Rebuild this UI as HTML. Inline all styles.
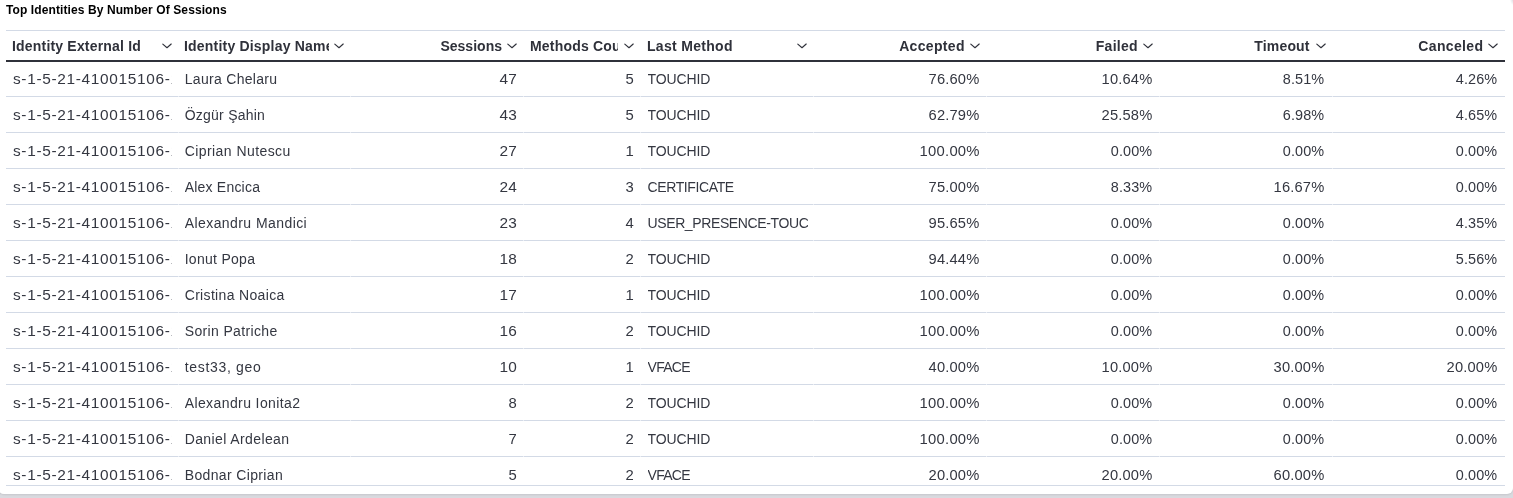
<!DOCTYPE html>
<html><head><meta charset="utf-8"><style>
html,body{margin:0;padding:0;}
body{width:1513px;height:498px;overflow:hidden;background:#d9dadf;position:relative;font-family:"Liberation Sans",sans-serif;}
#panel{position:absolute;left:-2px;top:-8px;width:1515px;height:502px;background:#fff;border-radius:6px;box-shadow:0 1px 2px rgba(0,0,0,0.09);}
#wrap{position:absolute;left:0;top:0;width:1513px;height:498px;will-change:transform;}
.t{position:absolute;white-space:nowrap;overflow:hidden;line-height:20px;height:20px;}
.h{font-weight:700;font-size:14px;color:#2f313a;}
.c{font-weight:400;font-size:14px;color:#343741;}
.r{text-align:right;}
.hl{position:absolute;height:1px;background:#d3dae6;}
.gap{position:absolute;width:1px;height:1px;background:#eaeef4;}
.chev{position:absolute;width:18px;height:18px;}
#title{position:absolute;font-size:12px;font-weight:700;color:#000;line-height:12px;white-space:nowrap;}
</style></head><body>
<div id="panel"></div>
<div style="position:absolute;left:1510px;top:0;width:3px;height:5px;background:radial-gradient(ellipse 3px 5px at 100% 0,rgba(190,194,204,0.5),rgba(255,255,255,0))"></div>
<div id="wrap">

<div id="title" style="left:6px;top:4px;letter-spacing:0.1px">Top Identities By Number Of Sessions</div>
<div class="hl" style="left:6px;top:30px;width:1499px"></div>
<div style="position:absolute;left:6px;top:60px;width:1499px;height:2px;background:#2f313a"></div>
<div class="chev" style="left:158px;top:38px"><svg viewBox="0 0 18 18" width="18" height="18"><path d="M4.8 6.1 L9.0 9.7 L13.2 6.0" fill="none" stroke="#2f313a" stroke-width="1.15" stroke-linecap="round" stroke-linejoin="round"/></svg></div>
<div class="t h" style="left:12px;top:36.15px;width:146px;letter-spacing:0.189px">Identity External Id</div>
<div class="chev" style="left:330px;top:38px"><svg viewBox="0 0 18 18" width="18" height="18"><path d="M4.8 6.1 L9.0 9.7 L13.2 6.0" fill="none" stroke="#2f313a" stroke-width="1.15" stroke-linecap="round" stroke-linejoin="round"/></svg></div>
<div class="t h" style="left:184px;top:36.15px;width:145px;letter-spacing:0.2px">Identity Display Name</div>
<div class="chev" style="left:503px;top:38px"><svg viewBox="0 0 18 18" width="18" height="18"><path d="M4.8 6.1 L9.0 9.7 L13.2 6.0" fill="none" stroke="#2f313a" stroke-width="1.15" stroke-linecap="round" stroke-linejoin="round"/></svg></div>
<div class="t h r" style="left:352px;top:36.15px;width:150.014px;letter-spacing:0.014px">Sessions</div>
<div class="chev" style="left:620px;top:38px"><svg viewBox="0 0 18 18" width="18" height="18"><path d="M4.8 6.1 L9.0 9.7 L13.2 6.0" fill="none" stroke="#2f313a" stroke-width="1.15" stroke-linecap="round" stroke-linejoin="round"/></svg></div>
<div class="t h" style="left:530px;top:36.15px;width:88px;letter-spacing:0.2px">Methods Count</div>
<div class="chev" style="left:793px;top:38px"><svg viewBox="0 0 18 18" width="18" height="18"><path d="M4.8 6.1 L9.0 9.7 L13.2 6.0" fill="none" stroke="#2f313a" stroke-width="1.15" stroke-linecap="round" stroke-linejoin="round"/></svg></div>
<div class="t h" style="left:647px;top:36.15px;width:143px;letter-spacing:0.3px">Last Method</div>
<div class="chev" style="left:966px;top:38px"><svg viewBox="0 0 18 18" width="18" height="18"><path d="M4.8 6.1 L9.0 9.7 L13.2 6.0" fill="none" stroke="#2f313a" stroke-width="1.15" stroke-linecap="round" stroke-linejoin="round"/></svg></div>
<div class="t h r" style="left:815px;top:36.15px;width:149.83000000000004px;letter-spacing:0.33px">Accepted</div>
<div class="chev" style="left:1139px;top:38px"><svg viewBox="0 0 18 18" width="18" height="18"><path d="M4.8 6.1 L9.0 9.7 L13.2 6.0" fill="none" stroke="#2f313a" stroke-width="1.15" stroke-linecap="round" stroke-linejoin="round"/></svg></div>
<div class="t h r" style="left:988px;top:36.15px;width:149.74px;letter-spacing:0.24px">Failed</div>
<div class="chev" style="left:1312px;top:38px"><svg viewBox="0 0 18 18" width="18" height="18"><path d="M4.8 6.1 L9.0 9.7 L13.2 6.0" fill="none" stroke="#2f313a" stroke-width="1.15" stroke-linecap="round" stroke-linejoin="round"/></svg></div>
<div class="t h r" style="left:1161px;top:36.15px;width:148.66699999999992px;letter-spacing:0.167px">Timeout</div>
<div class="chev" style="left:1484px;top:38px"><svg viewBox="0 0 18 18" width="18" height="18"><path d="M4.8 6.1 L9.0 9.7 L13.2 6.0" fill="none" stroke="#2f313a" stroke-width="1.15" stroke-linecap="round" stroke-linejoin="round"/></svg></div>
<div class="t h r" style="left:1334px;top:36.15px;width:149.3499999999999px;letter-spacing:0.35px">Canceled</div>
<div class="t c" style="left:13px;top:69.15px;width:159px"><span style="display:inline-block;transform:scaleX(1.1);transform-origin:0 0;letter-spacing:0.611px">s-1-5-21-410015106-1234567890</span></div>
<div class="t c" style="left:184.7px;top:69.15px;width:159.3px;letter-spacing:0.308px">Laura Chelaru</div>
<div class="t c r" style="left:352px;top:69.15px;width:165.3003px"><span style="display:inline-block;transform:scaleX(1.1);transform-origin:100% 0;letter-spacing:0.273px">47</span></div>
<div class="t c r" style="left:525px;top:69.15px;width:109.0px"><span style="display:inline-block;transform:scaleX(1.06);transform-origin:100% 0;letter-spacing:0px">5</span></div>
<div class="t c" style="left:647.5px;top:69.15px;width:160.0px;letter-spacing:-0.117px">TOUCHID</div>
<div class="t c r" style="left:815px;top:69.15px;width:164.67010000000005px"><span style="display:inline-block;transform:scaleX(1.05);transform-origin:100% 0;letter-spacing:0.162px">76.60%</span></div>
<div class="t c r" style="left:988px;top:69.15px;width:164.17010000000005px"><span style="display:inline-block;transform:scaleX(1.05);transform-origin:100% 0;letter-spacing:0.162px">10.64%</span></div>
<div class="t c r" style="left:1161px;top:69.15px;width:163.5999099999999px"><span style="display:inline-block;transform:scaleX(1.03);transform-origin:100% 0;letter-spacing:0.097px">8.51%</span></div>
<div class="t c r" style="left:1334px;top:69.15px;width:163.5999099999999px"><span style="display:inline-block;transform:scaleX(1.03);transform-origin:100% 0;letter-spacing:0.097px">4.26%</span></div>
<div class="t c" style="left:13px;top:105.15px;width:159px"><span style="display:inline-block;transform:scaleX(1.1);transform-origin:0 0;letter-spacing:0.611px">s-1-5-21-410015106-1234567890</span></div>
<div class="t c" style="left:184.7px;top:105.15px;width:159.3px;letter-spacing:0.24px">Özgür Şahin</div>
<div class="t c r" style="left:352px;top:105.15px;width:165.3003px"><span style="display:inline-block;transform:scaleX(1.1);transform-origin:100% 0;letter-spacing:0.273px">43</span></div>
<div class="t c r" style="left:525px;top:105.15px;width:109.0px"><span style="display:inline-block;transform:scaleX(1.06);transform-origin:100% 0;letter-spacing:0px">5</span></div>
<div class="t c" style="left:647.5px;top:105.15px;width:160.0px;letter-spacing:-0.117px">TOUCHID</div>
<div class="t c r" style="left:815px;top:105.15px;width:164.67010000000005px"><span style="display:inline-block;transform:scaleX(1.05);transform-origin:100% 0;letter-spacing:0.162px">62.79%</span></div>
<div class="t c r" style="left:988px;top:105.15px;width:164.17010000000005px"><span style="display:inline-block;transform:scaleX(1.05);transform-origin:100% 0;letter-spacing:0.162px">25.58%</span></div>
<div class="t c r" style="left:1161px;top:105.15px;width:163.5999099999999px"><span style="display:inline-block;transform:scaleX(1.03);transform-origin:100% 0;letter-spacing:0.097px">6.98%</span></div>
<div class="t c r" style="left:1334px;top:105.15px;width:163.5999099999999px"><span style="display:inline-block;transform:scaleX(1.03);transform-origin:100% 0;letter-spacing:0.097px">4.65%</span></div>
<div class="t c" style="left:13px;top:141.15px;width:159px"><span style="display:inline-block;transform:scaleX(1.1);transform-origin:0 0;letter-spacing:0.611px">s-1-5-21-410015106-1234567890</span></div>
<div class="t c" style="left:184.7px;top:141.15px;width:159.3px;letter-spacing:0.431px">Ciprian Nutescu</div>
<div class="t c r" style="left:352px;top:141.15px;width:165.3003px"><span style="display:inline-block;transform:scaleX(1.1);transform-origin:100% 0;letter-spacing:0.273px">27</span></div>
<div class="t c r" style="left:525px;top:141.15px;width:109.0px"><span style="display:inline-block;transform:scaleX(1.06);transform-origin:100% 0;letter-spacing:0px">1</span></div>
<div class="t c" style="left:647.5px;top:141.15px;width:160.0px;letter-spacing:-0.117px">TOUCHID</div>
<div class="t c r" style="left:815px;top:141.15px;width:164.72684000000004px"><span style="display:inline-block;transform:scaleX(1.06);transform-origin:100% 0;letter-spacing:0.214px">100.00%</span></div>
<div class="t c r" style="left:988px;top:141.15px;width:164.0999099999999px"><span style="display:inline-block;transform:scaleX(1.03);transform-origin:100% 0;letter-spacing:0.097px">0.00%</span></div>
<div class="t c r" style="left:1161px;top:141.15px;width:163.5999099999999px"><span style="display:inline-block;transform:scaleX(1.03);transform-origin:100% 0;letter-spacing:0.097px">0.00%</span></div>
<div class="t c r" style="left:1334px;top:141.15px;width:163.5999099999999px"><span style="display:inline-block;transform:scaleX(1.03);transform-origin:100% 0;letter-spacing:0.097px">0.00%</span></div>
<div class="t c" style="left:13px;top:177.15px;width:159px"><span style="display:inline-block;transform:scaleX(1.1);transform-origin:0 0;letter-spacing:0.611px">s-1-5-21-410015106-1234567890</span></div>
<div class="t c" style="left:184.7px;top:177.15px;width:159.3px;letter-spacing:0.21px">Alex Encica</div>
<div class="t c r" style="left:352px;top:177.15px;width:165.3003px"><span style="display:inline-block;transform:scaleX(1.1);transform-origin:100% 0;letter-spacing:0.273px">24</span></div>
<div class="t c r" style="left:525px;top:177.15px;width:109.0px"><span style="display:inline-block;transform:scaleX(1.06);transform-origin:100% 0;letter-spacing:0px">3</span></div>
<div class="t c" style="left:647.5px;top:177.15px;width:160.0px;letter-spacing:-0.38px">CERTIFICATE</div>
<div class="t c r" style="left:815px;top:177.15px;width:164.67010000000005px"><span style="display:inline-block;transform:scaleX(1.05);transform-origin:100% 0;letter-spacing:0.162px">75.00%</span></div>
<div class="t c r" style="left:988px;top:177.15px;width:164.0999099999999px"><span style="display:inline-block;transform:scaleX(1.03);transform-origin:100% 0;letter-spacing:0.097px">8.33%</span></div>
<div class="t c r" style="left:1161px;top:177.15px;width:163.67010000000005px"><span style="display:inline-block;transform:scaleX(1.05);transform-origin:100% 0;letter-spacing:0.162px">16.67%</span></div>
<div class="t c r" style="left:1334px;top:177.15px;width:163.5999099999999px"><span style="display:inline-block;transform:scaleX(1.03);transform-origin:100% 0;letter-spacing:0.097px">0.00%</span></div>
<div class="t c" style="left:13px;top:213.15px;width:159px"><span style="display:inline-block;transform:scaleX(1.1);transform-origin:0 0;letter-spacing:0.611px">s-1-5-21-410015106-1234567890</span></div>
<div class="t c" style="left:184.7px;top:213.15px;width:159.3px;letter-spacing:0.429px">Alexandru Mandici</div>
<div class="t c r" style="left:352px;top:213.15px;width:165.3003px"><span style="display:inline-block;transform:scaleX(1.1);transform-origin:100% 0;letter-spacing:0.273px">23</span></div>
<div class="t c r" style="left:525px;top:213.15px;width:109.0px"><span style="display:inline-block;transform:scaleX(1.06);transform-origin:100% 0;letter-spacing:0px">4</span></div>
<div class="t c" style="left:647.5px;top:213.15px;width:160.0px;letter-spacing:-0.382px">USER_PRESENCE-TOUCHID</div>
<div class="t c r" style="left:815px;top:213.15px;width:164.67010000000005px"><span style="display:inline-block;transform:scaleX(1.05);transform-origin:100% 0;letter-spacing:0.162px">95.65%</span></div>
<div class="t c r" style="left:988px;top:213.15px;width:164.0999099999999px"><span style="display:inline-block;transform:scaleX(1.03);transform-origin:100% 0;letter-spacing:0.097px">0.00%</span></div>
<div class="t c r" style="left:1161px;top:213.15px;width:163.5999099999999px"><span style="display:inline-block;transform:scaleX(1.03);transform-origin:100% 0;letter-spacing:0.097px">0.00%</span></div>
<div class="t c r" style="left:1334px;top:213.15px;width:163.5999099999999px"><span style="display:inline-block;transform:scaleX(1.03);transform-origin:100% 0;letter-spacing:0.097px">4.35%</span></div>
<div class="t c" style="left:13px;top:249.15px;width:159px"><span style="display:inline-block;transform:scaleX(1.1);transform-origin:0 0;letter-spacing:0.611px">s-1-5-21-410015106-1234567890</span></div>
<div class="t c" style="left:184.7px;top:249.15px;width:159.3px;letter-spacing:0.278px">Ionut Popa</div>
<div class="t c r" style="left:352px;top:249.15px;width:165.3003px"><span style="display:inline-block;transform:scaleX(1.1);transform-origin:100% 0;letter-spacing:0.273px">18</span></div>
<div class="t c r" style="left:525px;top:249.15px;width:109.0px"><span style="display:inline-block;transform:scaleX(1.06);transform-origin:100% 0;letter-spacing:0px">2</span></div>
<div class="t c" style="left:647.5px;top:249.15px;width:160.0px;letter-spacing:-0.117px">TOUCHID</div>
<div class="t c r" style="left:815px;top:249.15px;width:164.67010000000005px"><span style="display:inline-block;transform:scaleX(1.05);transform-origin:100% 0;letter-spacing:0.162px">94.44%</span></div>
<div class="t c r" style="left:988px;top:249.15px;width:164.0999099999999px"><span style="display:inline-block;transform:scaleX(1.03);transform-origin:100% 0;letter-spacing:0.097px">0.00%</span></div>
<div class="t c r" style="left:1161px;top:249.15px;width:163.5999099999999px"><span style="display:inline-block;transform:scaleX(1.03);transform-origin:100% 0;letter-spacing:0.097px">0.00%</span></div>
<div class="t c r" style="left:1334px;top:249.15px;width:163.5999099999999px"><span style="display:inline-block;transform:scaleX(1.03);transform-origin:100% 0;letter-spacing:0.097px">5.56%</span></div>
<div class="t c" style="left:13px;top:285.15px;width:159px"><span style="display:inline-block;transform:scaleX(1.1);transform-origin:0 0;letter-spacing:0.611px">s-1-5-21-410015106-1234567890</span></div>
<div class="t c" style="left:184.7px;top:285.15px;width:159.3px;letter-spacing:0.331px">Cristina Noaica</div>
<div class="t c r" style="left:352px;top:285.15px;width:165.3003px"><span style="display:inline-block;transform:scaleX(1.1);transform-origin:100% 0;letter-spacing:0.273px">17</span></div>
<div class="t c r" style="left:525px;top:285.15px;width:109.0px"><span style="display:inline-block;transform:scaleX(1.06);transform-origin:100% 0;letter-spacing:0px">1</span></div>
<div class="t c" style="left:647.5px;top:285.15px;width:160.0px;letter-spacing:-0.117px">TOUCHID</div>
<div class="t c r" style="left:815px;top:285.15px;width:164.72684000000004px"><span style="display:inline-block;transform:scaleX(1.06);transform-origin:100% 0;letter-spacing:0.214px">100.00%</span></div>
<div class="t c r" style="left:988px;top:285.15px;width:164.0999099999999px"><span style="display:inline-block;transform:scaleX(1.03);transform-origin:100% 0;letter-spacing:0.097px">0.00%</span></div>
<div class="t c r" style="left:1161px;top:285.15px;width:163.5999099999999px"><span style="display:inline-block;transform:scaleX(1.03);transform-origin:100% 0;letter-spacing:0.097px">0.00%</span></div>
<div class="t c r" style="left:1334px;top:285.15px;width:163.5999099999999px"><span style="display:inline-block;transform:scaleX(1.03);transform-origin:100% 0;letter-spacing:0.097px">0.00%</span></div>
<div class="t c" style="left:13px;top:321.15px;width:159px"><span style="display:inline-block;transform:scaleX(1.1);transform-origin:0 0;letter-spacing:0.611px">s-1-5-21-410015106-1234567890</span></div>
<div class="t c" style="left:184.7px;top:321.15px;width:159.3px;letter-spacing:0.354px">Sorin Patriche</div>
<div class="t c r" style="left:352px;top:321.15px;width:165.3003px"><span style="display:inline-block;transform:scaleX(1.1);transform-origin:100% 0;letter-spacing:0.273px">16</span></div>
<div class="t c r" style="left:525px;top:321.15px;width:109.0px"><span style="display:inline-block;transform:scaleX(1.06);transform-origin:100% 0;letter-spacing:0px">2</span></div>
<div class="t c" style="left:647.5px;top:321.15px;width:160.0px;letter-spacing:-0.117px">TOUCHID</div>
<div class="t c r" style="left:815px;top:321.15px;width:164.72684000000004px"><span style="display:inline-block;transform:scaleX(1.06);transform-origin:100% 0;letter-spacing:0.214px">100.00%</span></div>
<div class="t c r" style="left:988px;top:321.15px;width:164.0999099999999px"><span style="display:inline-block;transform:scaleX(1.03);transform-origin:100% 0;letter-spacing:0.097px">0.00%</span></div>
<div class="t c r" style="left:1161px;top:321.15px;width:163.5999099999999px"><span style="display:inline-block;transform:scaleX(1.03);transform-origin:100% 0;letter-spacing:0.097px">0.00%</span></div>
<div class="t c r" style="left:1334px;top:321.15px;width:163.5999099999999px"><span style="display:inline-block;transform:scaleX(1.03);transform-origin:100% 0;letter-spacing:0.097px">0.00%</span></div>
<div class="t c" style="left:13px;top:357.15px;width:159px"><span style="display:inline-block;transform:scaleX(1.1);transform-origin:0 0;letter-spacing:0.611px">s-1-5-21-410015106-1234567890</span></div>
<div class="t c" style="left:184.7px;top:357.15px;width:159.3px;letter-spacing:0.69px">test33, geo</div>
<div class="t c r" style="left:352px;top:357.15px;width:165.3003px"><span style="display:inline-block;transform:scaleX(1.1);transform-origin:100% 0;letter-spacing:0.273px">10</span></div>
<div class="t c r" style="left:525px;top:357.15px;width:109.0px"><span style="display:inline-block;transform:scaleX(1.06);transform-origin:100% 0;letter-spacing:0px">1</span></div>
<div class="t c" style="left:647.5px;top:357.15px;width:160.0px;letter-spacing:-0.7px">VFACE</div>
<div class="t c r" style="left:815px;top:357.15px;width:164.67010000000005px"><span style="display:inline-block;transform:scaleX(1.05);transform-origin:100% 0;letter-spacing:0.162px">40.00%</span></div>
<div class="t c r" style="left:988px;top:357.15px;width:164.17010000000005px"><span style="display:inline-block;transform:scaleX(1.05);transform-origin:100% 0;letter-spacing:0.162px">10.00%</span></div>
<div class="t c r" style="left:1161px;top:357.15px;width:163.67010000000005px"><span style="display:inline-block;transform:scaleX(1.05);transform-origin:100% 0;letter-spacing:0.162px">30.00%</span></div>
<div class="t c r" style="left:1334px;top:357.15px;width:163.67010000000005px"><span style="display:inline-block;transform:scaleX(1.05);transform-origin:100% 0;letter-spacing:0.162px">20.00%</span></div>
<div class="t c" style="left:13px;top:393.15px;width:159px"><span style="display:inline-block;transform:scaleX(1.1);transform-origin:0 0;letter-spacing:0.611px">s-1-5-21-410015106-1234567890</span></div>
<div class="t c" style="left:184.7px;top:393.15px;width:159.3px;letter-spacing:0.398px">Alexandru Ionita2</div>
<div class="t c r" style="left:352px;top:393.15px;width:165.0px"><span style="display:inline-block;transform:scaleX(1.06);transform-origin:100% 0;letter-spacing:0px">8</span></div>
<div class="t c r" style="left:525px;top:393.15px;width:109.0px"><span style="display:inline-block;transform:scaleX(1.06);transform-origin:100% 0;letter-spacing:0px">2</span></div>
<div class="t c" style="left:647.5px;top:393.15px;width:160.0px;letter-spacing:-0.117px">TOUCHID</div>
<div class="t c r" style="left:815px;top:393.15px;width:164.72684000000004px"><span style="display:inline-block;transform:scaleX(1.06);transform-origin:100% 0;letter-spacing:0.214px">100.00%</span></div>
<div class="t c r" style="left:988px;top:393.15px;width:164.0999099999999px"><span style="display:inline-block;transform:scaleX(1.03);transform-origin:100% 0;letter-spacing:0.097px">0.00%</span></div>
<div class="t c r" style="left:1161px;top:393.15px;width:163.5999099999999px"><span style="display:inline-block;transform:scaleX(1.03);transform-origin:100% 0;letter-spacing:0.097px">0.00%</span></div>
<div class="t c r" style="left:1334px;top:393.15px;width:163.5999099999999px"><span style="display:inline-block;transform:scaleX(1.03);transform-origin:100% 0;letter-spacing:0.097px">0.00%</span></div>
<div class="t c" style="left:13px;top:429.15px;width:159px"><span style="display:inline-block;transform:scaleX(1.1);transform-origin:0 0;letter-spacing:0.611px">s-1-5-21-410015106-1234567890</span></div>
<div class="t c" style="left:184.7px;top:429.15px;width:159.3px;letter-spacing:0.393px">Daniel Ardelean</div>
<div class="t c r" style="left:352px;top:429.15px;width:165.0px"><span style="display:inline-block;transform:scaleX(1.06);transform-origin:100% 0;letter-spacing:0px">7</span></div>
<div class="t c r" style="left:525px;top:429.15px;width:109.0px"><span style="display:inline-block;transform:scaleX(1.06);transform-origin:100% 0;letter-spacing:0px">2</span></div>
<div class="t c" style="left:647.5px;top:429.15px;width:160.0px;letter-spacing:-0.117px">TOUCHID</div>
<div class="t c r" style="left:815px;top:429.15px;width:164.72684000000004px"><span style="display:inline-block;transform:scaleX(1.06);transform-origin:100% 0;letter-spacing:0.214px">100.00%</span></div>
<div class="t c r" style="left:988px;top:429.15px;width:164.0999099999999px"><span style="display:inline-block;transform:scaleX(1.03);transform-origin:100% 0;letter-spacing:0.097px">0.00%</span></div>
<div class="t c r" style="left:1161px;top:429.15px;width:163.5999099999999px"><span style="display:inline-block;transform:scaleX(1.03);transform-origin:100% 0;letter-spacing:0.097px">0.00%</span></div>
<div class="t c r" style="left:1334px;top:429.15px;width:163.5999099999999px"><span style="display:inline-block;transform:scaleX(1.03);transform-origin:100% 0;letter-spacing:0.097px">0.00%</span></div>
<div class="t c" style="left:13px;top:465.15px;width:159px"><span style="display:inline-block;transform:scaleX(1.1);transform-origin:0 0;letter-spacing:0.611px">s-1-5-21-410015106-1234567890</span></div>
<div class="t c" style="left:184.7px;top:465.15px;width:159.3px;letter-spacing:0.354px">Bodnar Ciprian</div>
<div class="t c r" style="left:352px;top:465.15px;width:165.0px"><span style="display:inline-block;transform:scaleX(1.06);transform-origin:100% 0;letter-spacing:0px">5</span></div>
<div class="t c r" style="left:525px;top:465.15px;width:109.0px"><span style="display:inline-block;transform:scaleX(1.06);transform-origin:100% 0;letter-spacing:0px">2</span></div>
<div class="t c" style="left:647.5px;top:465.15px;width:160.0px;letter-spacing:-0.7px">VFACE</div>
<div class="t c r" style="left:815px;top:465.15px;width:164.67010000000005px"><span style="display:inline-block;transform:scaleX(1.05);transform-origin:100% 0;letter-spacing:0.162px">20.00%</span></div>
<div class="t c r" style="left:988px;top:465.15px;width:164.17010000000005px"><span style="display:inline-block;transform:scaleX(1.05);transform-origin:100% 0;letter-spacing:0.162px">20.00%</span></div>
<div class="t c r" style="left:1161px;top:465.15px;width:163.67010000000005px"><span style="display:inline-block;transform:scaleX(1.05);transform-origin:100% 0;letter-spacing:0.162px">60.00%</span></div>
<div class="t c r" style="left:1334px;top:465.15px;width:163.5999099999999px"><span style="display:inline-block;transform:scaleX(1.03);transform-origin:100% 0;letter-spacing:0.097px">0.00%</span></div>
<div class="hl" style="left:6px;top:96px;width:1499px"></div>
<div class="gap" style="left:178px;top:96px"></div>
<div class="gap" style="left:350px;top:96px"></div>
<div class="gap" style="left:523px;top:96px"></div>
<div class="gap" style="left:640px;top:96px"></div>
<div class="gap" style="left:813px;top:96px"></div>
<div class="gap" style="left:986px;top:96px"></div>
<div class="gap" style="left:1159px;top:96px"></div>
<div class="gap" style="left:1332px;top:96px"></div>
<div class="hl" style="left:6px;top:132px;width:1499px"></div>
<div class="gap" style="left:178px;top:132px"></div>
<div class="gap" style="left:350px;top:132px"></div>
<div class="gap" style="left:523px;top:132px"></div>
<div class="gap" style="left:640px;top:132px"></div>
<div class="gap" style="left:813px;top:132px"></div>
<div class="gap" style="left:986px;top:132px"></div>
<div class="gap" style="left:1159px;top:132px"></div>
<div class="gap" style="left:1332px;top:132px"></div>
<div class="hl" style="left:6px;top:168px;width:1499px"></div>
<div class="gap" style="left:178px;top:168px"></div>
<div class="gap" style="left:350px;top:168px"></div>
<div class="gap" style="left:523px;top:168px"></div>
<div class="gap" style="left:640px;top:168px"></div>
<div class="gap" style="left:813px;top:168px"></div>
<div class="gap" style="left:986px;top:168px"></div>
<div class="gap" style="left:1159px;top:168px"></div>
<div class="gap" style="left:1332px;top:168px"></div>
<div class="hl" style="left:6px;top:204px;width:1499px"></div>
<div class="gap" style="left:178px;top:204px"></div>
<div class="gap" style="left:350px;top:204px"></div>
<div class="gap" style="left:523px;top:204px"></div>
<div class="gap" style="left:640px;top:204px"></div>
<div class="gap" style="left:813px;top:204px"></div>
<div class="gap" style="left:986px;top:204px"></div>
<div class="gap" style="left:1159px;top:204px"></div>
<div class="gap" style="left:1332px;top:204px"></div>
<div class="hl" style="left:6px;top:240px;width:1499px"></div>
<div class="gap" style="left:178px;top:240px"></div>
<div class="gap" style="left:350px;top:240px"></div>
<div class="gap" style="left:523px;top:240px"></div>
<div class="gap" style="left:640px;top:240px"></div>
<div class="gap" style="left:813px;top:240px"></div>
<div class="gap" style="left:986px;top:240px"></div>
<div class="gap" style="left:1159px;top:240px"></div>
<div class="gap" style="left:1332px;top:240px"></div>
<div class="hl" style="left:6px;top:276px;width:1499px"></div>
<div class="gap" style="left:178px;top:276px"></div>
<div class="gap" style="left:350px;top:276px"></div>
<div class="gap" style="left:523px;top:276px"></div>
<div class="gap" style="left:640px;top:276px"></div>
<div class="gap" style="left:813px;top:276px"></div>
<div class="gap" style="left:986px;top:276px"></div>
<div class="gap" style="left:1159px;top:276px"></div>
<div class="gap" style="left:1332px;top:276px"></div>
<div class="hl" style="left:6px;top:312px;width:1499px"></div>
<div class="gap" style="left:178px;top:312px"></div>
<div class="gap" style="left:350px;top:312px"></div>
<div class="gap" style="left:523px;top:312px"></div>
<div class="gap" style="left:640px;top:312px"></div>
<div class="gap" style="left:813px;top:312px"></div>
<div class="gap" style="left:986px;top:312px"></div>
<div class="gap" style="left:1159px;top:312px"></div>
<div class="gap" style="left:1332px;top:312px"></div>
<div class="hl" style="left:6px;top:348px;width:1499px"></div>
<div class="gap" style="left:178px;top:348px"></div>
<div class="gap" style="left:350px;top:348px"></div>
<div class="gap" style="left:523px;top:348px"></div>
<div class="gap" style="left:640px;top:348px"></div>
<div class="gap" style="left:813px;top:348px"></div>
<div class="gap" style="left:986px;top:348px"></div>
<div class="gap" style="left:1159px;top:348px"></div>
<div class="gap" style="left:1332px;top:348px"></div>
<div class="hl" style="left:6px;top:384px;width:1499px"></div>
<div class="gap" style="left:178px;top:384px"></div>
<div class="gap" style="left:350px;top:384px"></div>
<div class="gap" style="left:523px;top:384px"></div>
<div class="gap" style="left:640px;top:384px"></div>
<div class="gap" style="left:813px;top:384px"></div>
<div class="gap" style="left:986px;top:384px"></div>
<div class="gap" style="left:1159px;top:384px"></div>
<div class="gap" style="left:1332px;top:384px"></div>
<div class="hl" style="left:6px;top:420px;width:1499px"></div>
<div class="gap" style="left:178px;top:420px"></div>
<div class="gap" style="left:350px;top:420px"></div>
<div class="gap" style="left:523px;top:420px"></div>
<div class="gap" style="left:640px;top:420px"></div>
<div class="gap" style="left:813px;top:420px"></div>
<div class="gap" style="left:986px;top:420px"></div>
<div class="gap" style="left:1159px;top:420px"></div>
<div class="gap" style="left:1332px;top:420px"></div>
<div class="hl" style="left:6px;top:456px;width:1499px"></div>
<div class="gap" style="left:178px;top:456px"></div>
<div class="gap" style="left:350px;top:456px"></div>
<div class="gap" style="left:523px;top:456px"></div>
<div class="gap" style="left:640px;top:456px"></div>
<div class="gap" style="left:813px;top:456px"></div>
<div class="gap" style="left:986px;top:456px"></div>
<div class="gap" style="left:1159px;top:456px"></div>
<div class="gap" style="left:1332px;top:456px"></div>
<div class="hl" style="left:6px;top:485px;width:1499px"></div>
</div></body></html>
